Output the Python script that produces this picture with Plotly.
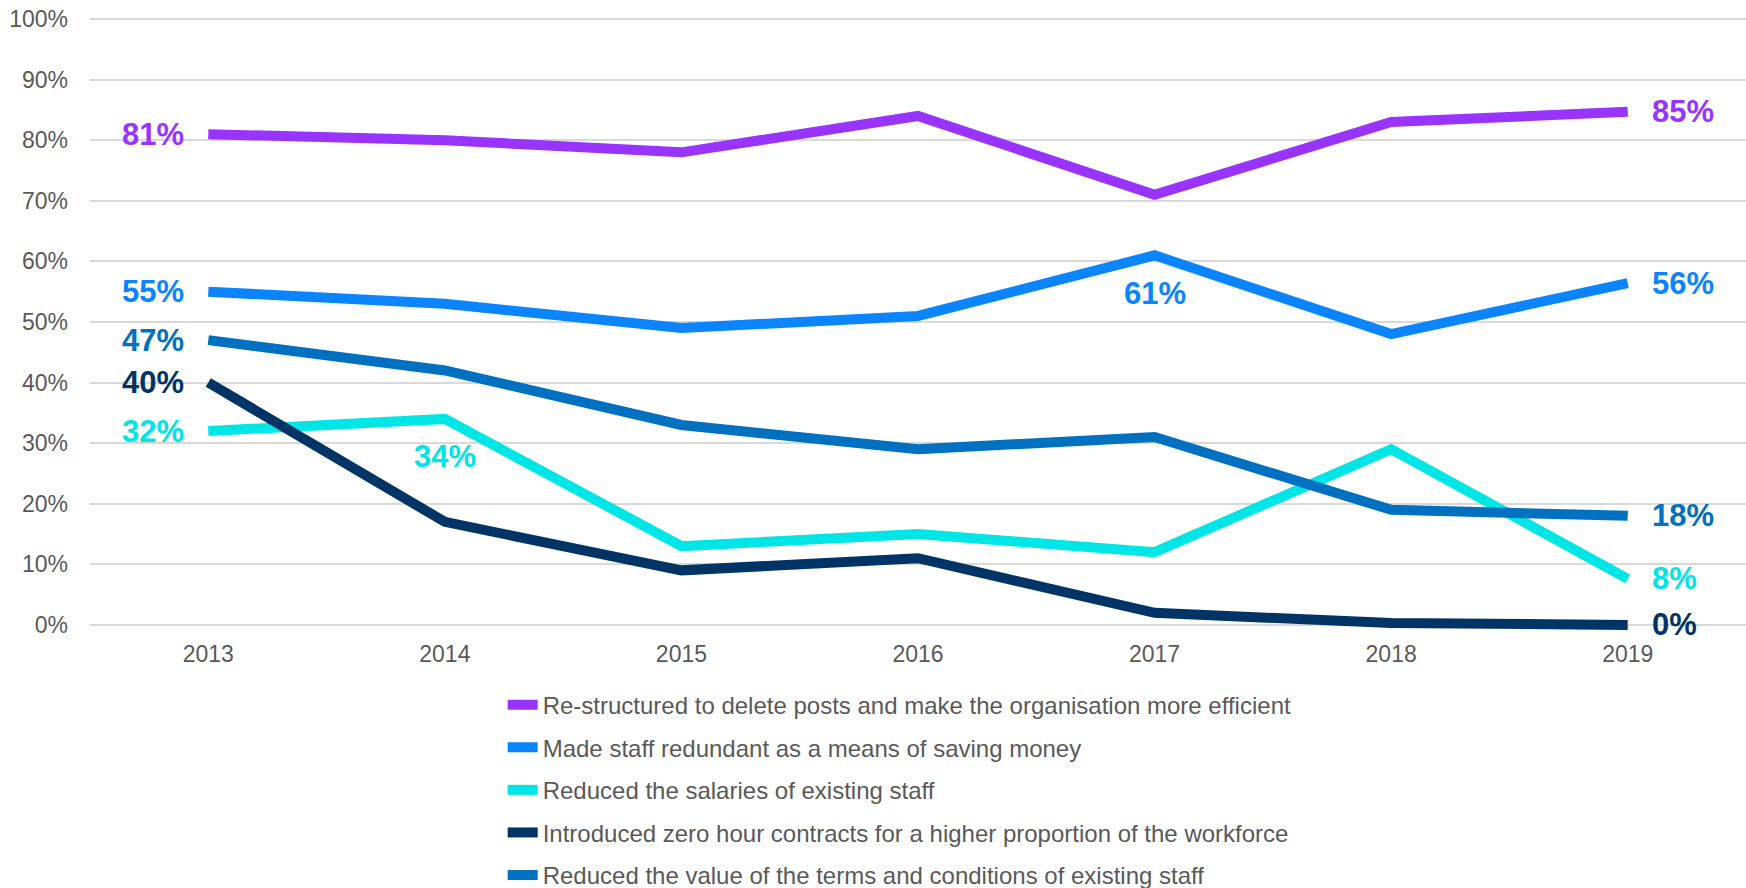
import plotly.graph_objects as go

years = ["2013", "2014", "2015", "2016", "2017", "2018", "2019"]

series_names = [
    "Re-structured to delete posts and make the organisation more efficient",
    "Made staff redundant as a means of saving money",
    "Reduced the salaries of existing staff",
    "Introduced zero hour contracts for a higher proportion of the workforce",
    "Reduced the value of the terms and conditions of existing staff",
]

restructured = [81, 80, 78, 84, 71, 83, 84.7]
redundant = [55, 53, 49, 51, 61, 48, 56.4]
salaries = [32, 34, 13, 15, 12, 29, 7.6]
zero_hours = [40, 17, 9, 11, 2, 0.3, 0]
terms = [47, 42, 33, 29, 31, 19, 18]

series_values = [restructured, redundant, salaries, zero_hours, terms]
colors = ["#9933FF", "#0A84FF", "#00E6E6", "#003366", "#0070C0"]

# labelled points: (series index, year index)
start_labels = [0, 1, 2, 3, 4]
end_labels = [0, 1, 2, 3, 4]
below_labels = [(2, 1), (1, 4)]

FONT = "Liberation Sans, Arial, sans-serif"
GREY = "#595959"

fig = go.Figure()
for i, (name, vals) in enumerate(zip(series_names, series_values)):
    fig.add_trace(go.Scatter(
        x=years, y=vals, name=name, mode="lines",
        line=dict(color=colors[i], width=10),
        legendgroup=f"g{i}",
    ))

last = len(years) - 1
annotations = []
for i in start_labels:
    v = series_values[i][0]
    annotations.append(dict(x=0, y=v, xref="x", yref="y", text=f"{round(v)}%", showarrow=False,
                            xanchor="right", yanchor="middle", xshift=-22,
                            font=dict(family=FONT, size=31, color=colors[i], weight="bold")))
for i in end_labels:
    v = series_values[i][-1]
    annotations.append(dict(x=last, y=v, xref="x", yref="y", text=f"{round(v)}%", showarrow=False,
                            xanchor="left", yanchor="middle", xshift=22,
                            font=dict(family=FONT, size=31, color=colors[i], weight="bold")))
for i, j in below_labels:
    v = series_values[i][j]
    annotations.append(dict(x=j, y=v, xref="x", yref="y", text=f"{round(v)}%", showarrow=False,
                            xanchor="center", yanchor="middle", yshift=-38,
                            font=dict(family=FONT, size=31, color=colors[i], weight="bold")))

fig.update_layout(
    width=1746, height=888,
    margin=dict(l=90, r=0, t=12.94, b=250.88, autoexpand=False),
    paper_bgcolor="white", plot_bgcolor="white",
    font=dict(family=FONT, color=GREY, size=23),
    annotations=annotations,
    showlegend=True,
    legend=dict(orientation="v", x=0.2492, xanchor="left", y=-0.073, yanchor="top",
                font=dict(family=FONT, size=24, color=GREY),
                traceorder="grouped", tracegroupgap=8.4,
                bgcolor="rgba(0,0,0,0)"),
)
fig.update_xaxes(type="category", range=[-0.5, 6.5], showgrid=False, showline=False,
                 zeroline=False, ticks="", ticklabelstandoff=1,
                 tickfont=dict(family=FONT, size=23, color=GREY))
fig.update_yaxes(range=[-2, 101], tickmode="array", tickvals=list(range(0, 101, 10)),
                 ticktext=[f"{t}%" for t in range(0, 101, 10)],
                 showgrid=True, gridcolor="#D9D9D9", gridwidth=1.5,
                 zeroline=False, showline=False, ticks="", ticklabelstandoff=21,
                 tickfont=dict(family=FONT, size=23, color=GREY))

fig.write_html("out.html",
               config={"displayModeBar": False},
               post_script="document.body.style.margin='0';document.body.style.overflow='hidden';")
